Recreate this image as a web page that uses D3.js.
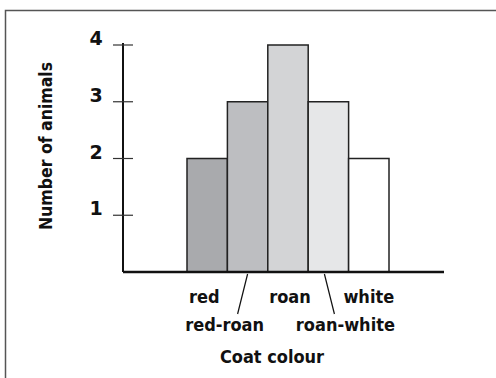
<!DOCTYPE html>
<html>
<head>
<meta charset="utf-8">
<script src="https://cdn.jsdelivr.net/npm/d3@7"></script>
<style>
  body { margin: 0; background: #fff; }
  text { font-family: "DejaVu Sans Condensed", "DejaVu Sans", sans-serif; font-weight: bold; fill: #111; }
</style>
</head>
<body>
<div id="chart"></div>
<script>
// data
const categories = ["red", "red-roan", "roan", "roan-white", "white"];
const counts = [2, 3, 4, 3, 2];
const fills = ["#a9aaad", "#bdbec1", "#d3d4d6", "#e6e7e8", "#ffffff"];
const yTicks = [1, 2, 3, 4];

const W = 496, H = 378;
const axisLeft = 123, axisRight = 444, axisTop = 43;
// label layout: row 1 or 2, and a shift from the bar centre
const labelRow = [0, 1, 0, 1, 0];
const labelShift = [-3, -23, 2, 17, 0];

const svg = d3.select("#chart").append("svg")
  .attr("width", W)
  .attr("height", H);

// frame round the figure
svg.append("rect")
  .attr("x", 5.5).attr("y", 10.5)
  .attr("width", W + 20).attr("height", H + 20)
  .attr("fill", "none")
  .attr("stroke", "#555")
  .attr("stroke-width", 1.5);

const y = d3.scaleLinear().domain([0, 4]).range([272, 45]);
const x = d3.scaleBand().domain(categories).range([187, 389]).padding(0);
const mid = d => x(d) + x.bandwidth() / 2;

// bars
svg.selectAll(".bar")
  .data(categories)
  .join("rect")
  .attr("class", "bar")
  .attr("x", d => x(d))
  .attr("y", (d, i) => y(counts[i]))
  .attr("width", x.bandwidth())
  .attr("height", (d, i) => y(0) - y(counts[i]))
  .attr("fill", (d, i) => fills[i])
  .attr("stroke", "#222")
  .attr("stroke-width", 1.5);

// y axis
svg.append("line")
  .attr("x1", axisLeft).attr("x2", axisLeft)
  .attr("y1", axisTop).attr("y2", y(0))
  .attr("stroke", "#111").attr("stroke-width", 2);

svg.selectAll(".ytick")
  .data(yTicks)
  .join("line")
  .attr("class", "ytick")
  .attr("x1", axisLeft - 10).attr("x2", axisLeft + 10)
  .attr("y1", d => y(d)).attr("y2", d => y(d))
  .attr("stroke", "#333").attr("stroke-width", 1.2);

svg.selectAll(".ylab")
  .data(yTicks)
  .join("text")
  .attr("class", "ylab")
  .attr("x", 96)
  .attr("y", d => y(d))
  .attr("text-anchor", "middle")
  .style("font-family", "'DejaVu Sans', sans-serif")
  .style("font-size", "19px")
  .text(d => d);

// x axis
svg.append("line")
  .attr("x1", axisLeft).attr("x2", axisRight)
  .attr("y1", y(0)).attr("y2", y(0))
  .attr("stroke", "#111").attr("stroke-width", 2.5);

// category labels, two staggered rows
svg.selectAll(".xlab")
  .data(categories)
  .join("text")
  .attr("class", "xlab")
  .attr("x", (d, i) => mid(d) + labelShift[i])
  .attr("y", (d, i) => labelRow[i] ? 331 : 303)
  .attr("text-anchor", "middle")
  .style("font-size", "18px")
  .text(d => d);

// leader lines for the lower row
const leaders = categories.filter((d, i) => labelRow[i]);
svg.selectAll(".leader")
  .data(leaders)
  .join("line")
  .attr("class", "leader")
  .attr("x1", (d, i) => mid(d) + (i === 0 ? 0 : -4))
  .attr("y1", y(0) + 2)
  .attr("x2", (d, i) => mid(d) + (i === 0 ? -10 : 6))
  .attr("y2", 314)
  .attr("stroke", "#111")
  .attr("stroke-width", 1.2);

// axis titles
svg.append("text")
  .attr("x", 272).attr("y", 363)
  .attr("text-anchor", "middle")
  .style("font-size", "18px")
  .text("Coat colour");

svg.append("text")
  .attr("transform", "translate(52,146) rotate(-90)")
  .attr("text-anchor", "middle")
  .style("font-size", "17.5px")
  .text("Number of animals");
</script>
</body>
</html>
